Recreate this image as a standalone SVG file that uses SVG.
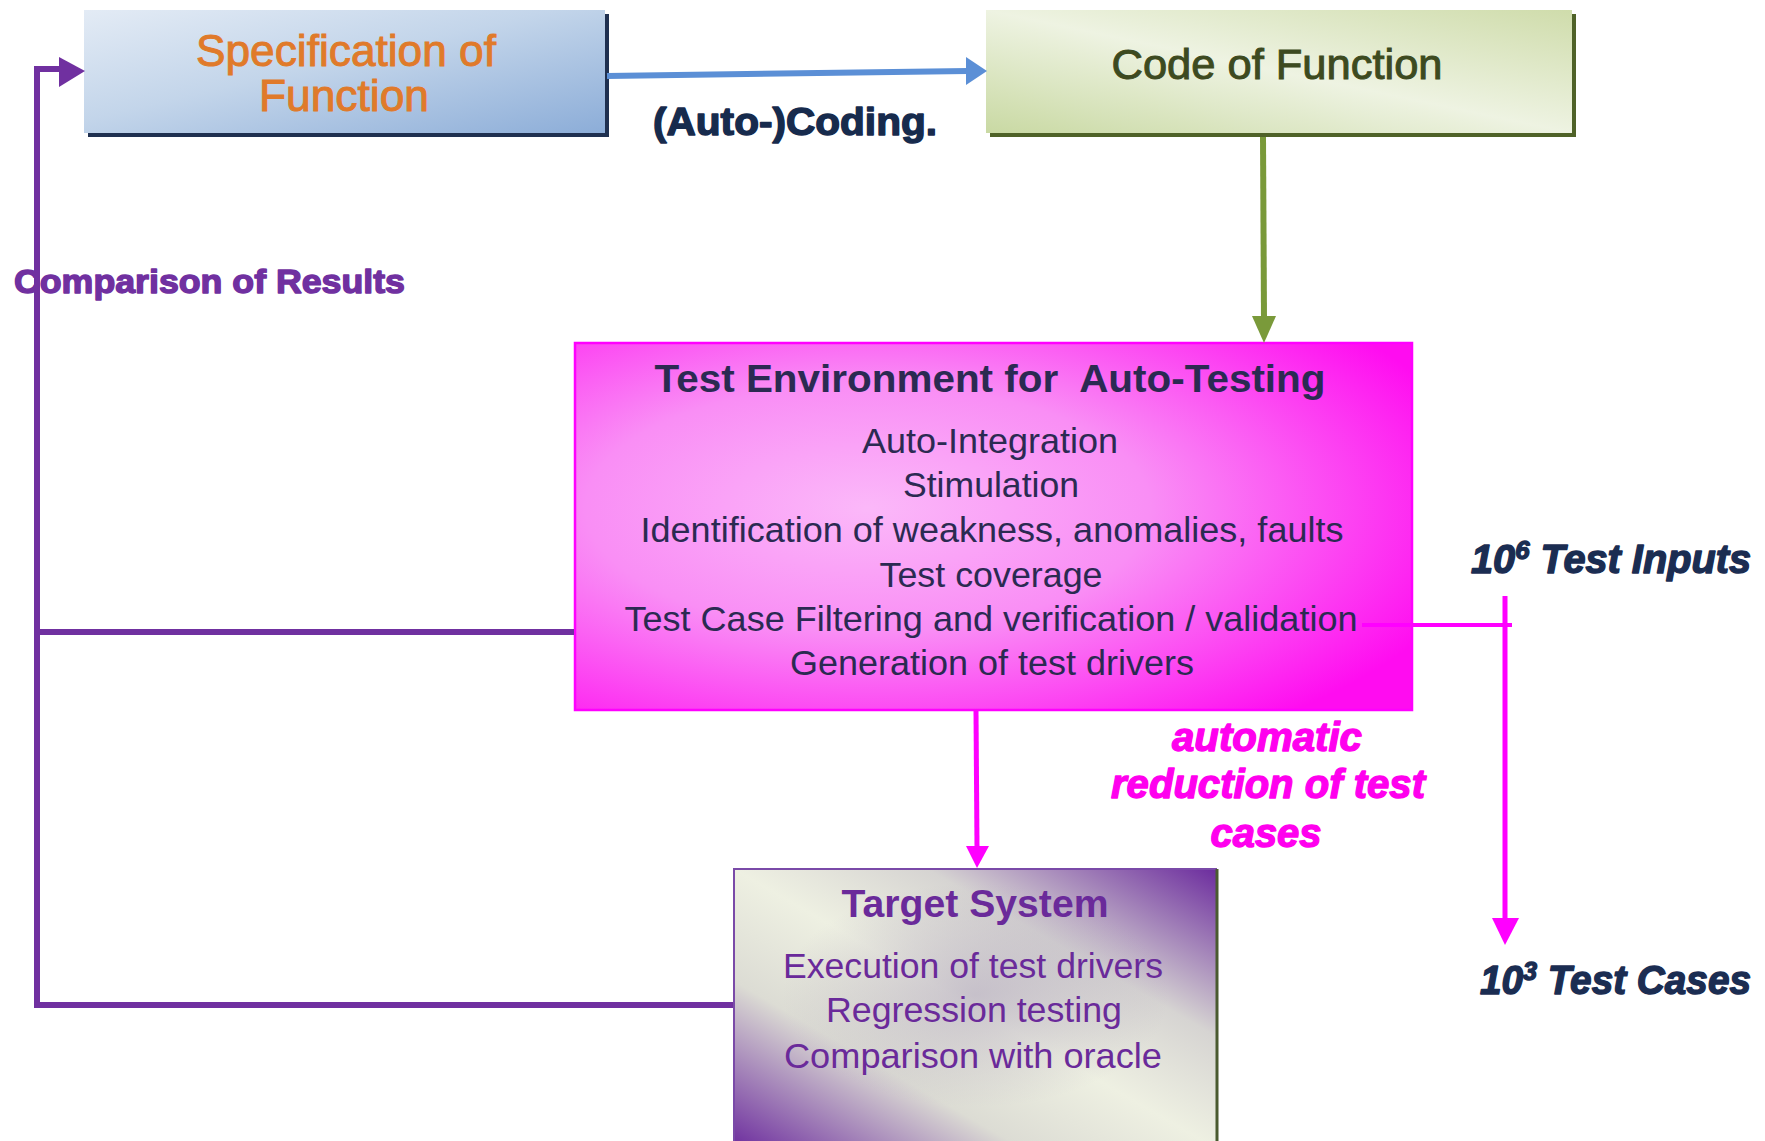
<svg xmlns="http://www.w3.org/2000/svg" width="1765" height="1141" viewBox="0 0 1765 1141">
  <defs>
    <linearGradient id="gSpec" x1="0" y1="0" x2="1" y2="1">
      <stop offset="0" stop-color="#e3ebf5"/>
      <stop offset="0.45" stop-color="#c3d5ea"/>
      <stop offset="1" stop-color="#8cadd8"/>
    </linearGradient>
    <linearGradient id="gCode" x1="0" y1="1" x2="1" y2="0">
      <stop offset="0" stop-color="#c9d9a3"/>
      <stop offset="0.5" stop-color="#eef3e2"/>
      <stop offset="1" stop-color="#cfdcab"/>
    </linearGradient>
    <radialGradient id="gEnv" cx="0.35" cy="0.45" r="0.75">
      <stop offset="0" stop-color="#fbb8f9"/>
      <stop offset="0.45" stop-color="#f98ef5"/>
      <stop offset="1" stop-color="#ff0cf0"/>
    </radialGradient>
    <linearGradient id="gTarget" x1="1" y1="0" x2="0" y2="1">
      <stop offset="0" stop-color="#6c2c9e"/>
      <stop offset="0.3" stop-color="#d6d4d2"/>
      <stop offset="0.5" stop-color="#eef0e2"/>
      <stop offset="0.7" stop-color="#dcdcd4"/>
      <stop offset="1" stop-color="#6c2c9e"/>
    </linearGradient>
    <radialGradient id="gTargetHaze" cx="0.5" cy="0.45" r="0.4">
      <stop offset="0" stop-color="#a89cb8" stop-opacity="0.55"/>
      <stop offset="1" stop-color="#a89cb8" stop-opacity="0"/>
    </radialGradient>
  </defs>
  <style>
    .sans { font-family: "Liberation Sans", Arial, sans-serif; }
    .body { font-size: 35px; fill: #2b2a52; text-anchor: middle; }
    .tbody { font-size: 35px; fill: #6a2a9a; text-anchor: middle; }
    .heavy { stroke-width: 1.4px; stroke-linejoin: round; }
    .mag { font-size: 40px; font-weight: bold; font-style: italic; fill: #ff00ee; stroke: #ff00ee; text-anchor: middle; }
    .count { font-size: 40px; font-weight: bold; font-style: italic; fill: #1b2d52; stroke: #1b2d52; }
  </style>

  <rect width="1765" height="1141" fill="#ffffff"/>

  <!-- specification node -->
  <g id="spec">
    <rect x="88" y="14" width="521" height="123" fill="#1f3050"/>
    <rect x="84" y="10" width="521" height="123" fill="url(#gSpec)"/>
    <text class="sans" x="346" y="66" font-size="44" fill="#e07a2a" stroke="#e07a2a" stroke-width="1" text-anchor="middle" textLength="300" lengthAdjust="spacingAndGlyphs">Specification of</text>
    <text class="sans" x="344" y="111" font-size="44" fill="#e07a2a" stroke="#e07a2a" stroke-width="1" text-anchor="middle" textLength="170" lengthAdjust="spacingAndGlyphs">Function</text>
  </g>

  <!-- coding label -->
  <g id="coding-label">
    <text class="sans heavy" x="795" y="135" font-size="38" font-weight="bold" fill="#172b4d" stroke="#172b4d" text-anchor="middle" textLength="284" lengthAdjust="spacingAndGlyphs">(Auto-)Coding.</text>
  </g>

  <!-- code node -->
  <g id="code">
    <rect x="990" y="14" width="586" height="123" fill="#4f6228"/>
    <rect x="986" y="10" width="586" height="123" fill="url(#gCode)"/>
    <text class="sans" x="1277" y="79" font-size="43" fill="#3d4a20" stroke="#3d4a20" stroke-width="1" text-anchor="middle" textLength="331" lengthAdjust="spacingAndGlyphs">Code of Function</text>
  </g>

  <!-- comparison label -->
  <g id="comparison-label">
    <text class="sans heavy" x="14" y="293" font-size="34" font-weight="bold" fill="#7030a0" stroke="#7030a0" textLength="391" lengthAdjust="spacingAndGlyphs">Comparison of Results</text>
  </g>

  <!-- test environment node -->
  <g id="test-environment">
    <rect x="575" y="343" width="837" height="367" fill="url(#gEnv)" stroke="#ff00ff" stroke-width="2.5"/>
    <text class="sans" x="990" y="392" font-size="38" font-weight="bold" fill="#2b2a52" text-anchor="middle" xml:space="preserve" textLength="671" lengthAdjust="spacingAndGlyphs">Test Environment for  Auto-Testing</text>
    <text class="sans body" x="990" y="453" textLength="256" lengthAdjust="spacingAndGlyphs">Auto-Integration</text>
    <text class="sans body" x="991" y="497" textLength="176" lengthAdjust="spacingAndGlyphs">Stimulation</text>
    <text class="sans body" x="992" y="542" textLength="703" lengthAdjust="spacingAndGlyphs">Identification of weakness, anomalies, faults</text>
    <text class="sans body" x="991" y="587" textLength="223" lengthAdjust="spacingAndGlyphs">Test coverage</text>
    <text class="sans body" x="991" y="631" textLength="733" lengthAdjust="spacingAndGlyphs">Test Case Filtering and verification / validation</text>
    <text class="sans body" x="992" y="675" textLength="404" lengthAdjust="spacingAndGlyphs">Generation of test drivers</text>
  </g>

  <!-- reduction label -->
  <g id="reduction-label">
    <text class="sans mag heavy" x="1267" y="751" textLength="190" lengthAdjust="spacingAndGlyphs">automatic</text>
    <text class="sans mag heavy" x="1268" y="798" textLength="314" lengthAdjust="spacingAndGlyphs">reduction of test</text>
    <text class="sans mag heavy" x="1266" y="847" textLength="111" lengthAdjust="spacingAndGlyphs">cases</text>
  </g>

  <!-- test input / test case counts -->
  <g id="test-inputs">
    <text class="sans count heavy" x="1471" y="573" textLength="280" lengthAdjust="spacingAndGlyphs">10<tspan font-size="26" dy="-14">6</tspan><tspan dy="14"> Test Inputs</tspan></text>
  </g>
  <g id="test-cases">
    <text class="sans count heavy" x="1480" y="994" textLength="271" lengthAdjust="spacingAndGlyphs">10<tspan font-size="26" dy="-14">3</tspan><tspan dy="14"> Test Cases</tspan></text>
  </g>

  <!-- target system node -->
  <g id="target-system">
    <rect x="734" y="869" width="483" height="280" fill="url(#gTarget)"/>
    <rect x="734" y="869" width="483" height="280" fill="url(#gTargetHaze)"/>
    <path d="M734,1149 L734,869 L1217,869" fill="none" stroke="#7a4aa8" stroke-width="2"/>
    <path d="M1217,869 L1217,1149" fill="none" stroke="#4a5a30" stroke-width="3"/>
    <text class="sans" x="975" y="917" font-size="38" font-weight="bold" fill="#6a2a9a" text-anchor="middle" textLength="267" lengthAdjust="spacingAndGlyphs">Target System</text>
    <text class="sans tbody" x="973" y="978" textLength="380" lengthAdjust="spacingAndGlyphs">Execution of test drivers</text>
    <text class="sans tbody" x="974" y="1022" textLength="296" lengthAdjust="spacingAndGlyphs">Regression testing</text>
    <text class="sans tbody" x="973" y="1068" textLength="378" lengthAdjust="spacingAndGlyphs">Comparison with oracle</text>
  </g>

  <!-- connectors -->
  <g id="connectors" fill="none" stroke-linejoin="miter">
    <!-- coding arrow -->
    <path d="M607,76 L968,71" stroke="#5b8fd6" stroke-width="6"/>
    <polygon points="966,57 987,71 966,85" fill="#5b8fd6"/>
    <!-- code to test environment -->
    <path d="M1263,137 L1264,318" stroke="#7a9a3a" stroke-width="6"/>
    <polygon points="1252,316 1276,316 1264,343" fill="#7a9a3a"/>
    <!-- test environment to target -->
    <path d="M976,711 L977,848" stroke="#ff00ff" stroke-width="5"/>
    <polygon points="966,846 989,846 977,868" fill="#ff00ff"/>
    <!-- reduction of test cases -->
    <path d="M1362,625 L1512,625" stroke="#ff00ff" stroke-width="4"/>
    <path d="M1505,596 L1505,920" stroke="#ff00ff" stroke-width="5"/>
    <polygon points="1492,918 1519,918 1505,945" fill="#ff00ff"/>
    <!-- comparison feedback loop -->
    <path d="M574,632 L37,632" stroke="#7030a0" stroke-width="6"/>
    <path d="M733,1005 L37,1005 L37,69 L62,69" stroke="#7030a0" stroke-width="6"/>
    <polygon points="59,57 85,71 59,87" fill="#7030a0"/>
  </g>
</svg>
